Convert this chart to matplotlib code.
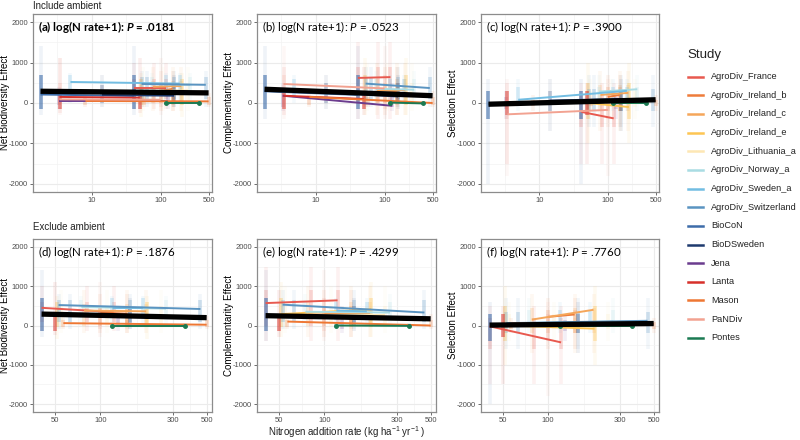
import matplotlib
matplotlib.use("Agg")
import matplotlib.pyplot as plt
from matplotlib.lines import Line2D
from matplotlib.ticker import FixedLocator, NullFormatter

plt.rcParams["font.family"] = ["Liberation Sans", "DejaVu Sans"]
plt.rcParams["axes.unicode_minus"] = False
plt.rcParams["mathtext.fontset"] = "custom"
plt.rcParams["mathtext.rm"] = "Liberation Sans"
plt.rcParams["mathtext.it"] = "Lato:italic"
plt.rcParams["mathtext.bf"] = "Lato:bold:italic"

# studies, colours and nitrogen levels (kg N)
studies = ["AgroDiv_France", "AgroDiv_Ireland_b", "AgroDiv_Ireland_c", "AgroDiv_Ireland_e",
           "AgroDiv_Lithuania_a", "AgroDiv_Norway_a", "AgroDiv_Sweden_a", "AgroDiv_Switzerland",
           "BioCoN", "BioDSweden", "Jena", "Lanta", "Mason", "PaNDiv", "Pontes"]
colors = ["#E8594F", "#EE7C3B", "#F5A65A", "#FDC553", "#FDE7B4", "#A9DCE3", "#72BDE2",
          "#5A94C1", "#3D6CA9", "#1E3A6E", "#6B3C8E", "#D7302A", "#EE7733", "#F2A291", "#1B7A52"]
ambient = [None, None, None, None, None, None, 4.9, None,
           1.8, 14.1, 3.3, 3.4, 8.1, 3.4, None]
levels = [[41, 81, 122], [100, 150], [78, 150, 200], [52, 203],
          [55, 110, 250], [75, 270], [120, 190], [53, 63, 157, 455],
          [41], [157], [130], [50], [57, 150, 500], [100], [120, 360]]
# how crowded each study's point columns look (many plots -> darker)
crowding = [0.2, 0.2, 0.2, 0.35, 0.2, 0.2, 0.25, 0.25,
            0.6, 0.25, 0.2, 0.55, 0.2, 0.2, 0.3]

# point clouds per study: (low, high, core low, core high)
cloud_nbe = [(-150, 1000, 100, 600), (-200, 800, 0, 500), (-200, 900, 0, 550), (-350, 750, -50, 600),
             (-200, 900, 0, 500), (0, 750, 200, 650), (0, 750, 250, 700), (-100, 800, 100, 650),
             (-300, 1400, -150, 700), (-100, 700, 0, 450), (-150, 400, -50, 200), (-250, 1100, -150, 300),
             (-100, 250, -50, 150), (-300, 1100, -100, 500), (-60, 60, -30, 30)]
cloud_ce = [(-400, 1500, 0, 900), (-300, 900, 0, 500), (-300, 1000, 0, 600), (-300, 1100, -50, 700),
            (-200, 1000, 0, 500), (0, 800, 150, 600), (0, 700, 150, 600), (-100, 900, 100, 650),
            (-400, 1400, -150, 700), (-150, 700, 0, 500), (-200, 500, -100, 300), (-300, 900, -150, 300),
            (-100, 300, -50, 150), (-400, 1400, -150, 700), (-60, 60, -30, 30)]
cloud_se = [(-1500, 500, -600, 200), (-600, 700, -200, 400), (-700, 800, -200, 450), (-1000, 1000, -400, 500),
            (-400, 600, -100, 300), (-200, 700, 0, 400), (-200, 600, 0, 400), (-600, 700, -200, 350),
            (-2000, 600, -400, 300), (-700, 600, -200, 300), (-400, 300, -150, 150), (-1500, 500, -300, 300),
            (-200, 200, -80, 80), (-1800, 600, -400, 300), (-60, 60, -30, 30)]

# fitted lines: value at lowest and highest N of each study
fit_a = [(380, 380), (300, 350), (400, 420), (230, 240), (300, 310), (470, 450), (520, 480), (470, 450),
         (210, 175), (200, 180), (40, 40), (150, 130), (50, 40), (90, 80), (0, 0)]
fit_b = [(620, 640), (250, 300), (300, 320), (200, 250), (250, 250), (350, 330), (330, 240), (480, 370),
         (290, 200), (260, 160), (180, -70), (180, 100), (150, 0), (470, 360), (10, -10)]
fit_c = [(-220, -380), (150, 200), (200, 250), (0, -100), (30, 50), (280, 340), (80, 300), (0, 100),
         (-30, 20), (60, 100), (0, 60), (-30, 30), (30, 60), (-280, -170), (0, 0)]
fit_d = [(450, 340), (330, 300), (380, 360), (300, 240), (260, 250), (470, 430), (440, 450), (520, 420),
         None, None, None, None, (60, 20), None, (0, 0)]
fit_e = [(570, 640), (300, 320), (280, 300), (290, 410), (260, 270), (350, 330), (380, 360), (530, 330),
         None, None, None, None, (100, 0), None, (0, -10)]
fit_f = [(-20, -430), (220, 280), (150, 400), (0, -80), (20, 40), (60, 100), (60, 80), (60, 120),
         None, None, None, None, (50, 40), None, (0, 0)]
overall = {"a": (290, 250), "b": (340, 180), "c": (-30, 80),
           "d": (290, 200), "e": (250, 170), "f": (10, 50)}
p_values = {"a": ".0181", "b": ".0523", "c": ".3900", "d": ".1876", "e": ".4299", "f": ".7760"}
ylabels = ["Net Biodiversity Effect", "Complementarity Effect", "Selection Effect"]

W, H = 800, 440
fig = plt.figure(figsize=(W / 100, H / 100), dpi=100)


def add_ax(x0, y0, x1, y1):
    return fig.add_axes([x0 / W, 1 - y1 / H, (x1 - x0) / W, (y1 - y0) / H])


def draw_panel(ax, key, clouds, fits, include_amb, ylabel):
    xs_all = []
    for i, st in enumerate(studies):
        xs = list(levels[i])
        if include_amb and ambient[i] is not None:
            xs = [ambient[i]] + xs
        xs_all += xs
        lo, hi, clo, chi = clouds[i]
        ax.vlines(xs, lo, hi, color=colors[i], lw=2.6, alpha=0.08, zorder=2)
        ax.vlines(xs, clo, chi, color=colors[i], lw=2.6, alpha=crowding[i], zorder=2)
        if fits[i] is not None and len(xs) > 1:
            ax.plot([min(xs), max(xs)], fits[i], color=colors[i], lw=1.4, zorder=3,
                    solid_capstyle="butt")
            if st == "Pontes":
                ax.plot([min(xs), max(xs)], fits[i], "o", color=colors[i], ms=2.5, zorder=3)
    ax.plot([min(xs_all), max(xs_all)], overall[key], color="black", lw=3.8, zorder=4,
            solid_capstyle="butt")

    ax.set_xscale("log")
    ax.set_ylim(-2200, 2200)
    ax.set_yticks([-2000, -1000, 0, 1000, 2000])
    ax.set_yticks([-1500, -500, 500, 1500], minor=True)
    if include_amb:
        ax.set_xlim(1.4, 560)
        ax.xaxis.set_major_locator(FixedLocator([10, 100, 500]))
        ax.xaxis.set_minor_locator(FixedLocator([3.16, 31.6, 224]))
        ax.set_xticklabels(["10", "100", "500"])
    else:
        ax.set_xlim(36, 542)
        ax.xaxis.set_major_locator(FixedLocator([50, 100, 300, 500]))
        ax.xaxis.set_minor_locator(FixedLocator([70.7, 173, 387]))
        ax.set_xticklabels(["50", "100", "300", "500"])
    ax.xaxis.set_minor_formatter(NullFormatter())
    ax.grid(True, which="major", color="#ebebeb", lw=0.8, zorder=0)
    ax.grid(True, which="minor", color="#f3f3f3", lw=0.5, zorder=0)
    ax.set_axisbelow(True)
    ax.tick_params(which="major", length=2.5, width=0.6, color="#555555",
                   labelsize=5.5, labelcolor="#4d4d4d", pad=1)
    ax.tick_params(which="minor", length=0)
    for s in ax.spines.values():
        s.set_color("#8c8c8c")
        s.set_linewidth(0.9)
    ax.set_ylabel(ylabel, fontsize=7, va="center")
    ax.yaxis.set_label_coords(-28.2 / 179, 0.5)

    letter = "(" + key + ") "
    if key == "a":
        ax.text(0.03, 0.925, letter + "log(N rate+1): $\\mathbf{P}$ = .0181", transform=ax.transAxes,
                fontsize=8.3, fontweight="bold", family="Lato", va="center", ha="left", zorder=6)
    else:
        ax.text(0.03, 0.925, letter + "log(N rate+1): $\\mathit{P}$ = " + p_values[key],
                transform=ax.transAxes, fontsize=8.3, family="Lato", va="center", ha="left", zorder=6)


col_x = [(33, 212), (257, 436), (481, 659)]
top_keys = ["a", "b", "c"]
bot_keys = ["d", "e", "f"]
top_fits = [fit_a, fit_b, fit_c]
bot_fits = [fit_d, fit_e, fit_f]
clouds_all = [cloud_nbe, cloud_ce, cloud_se]

for j in range(3):
    ax = add_ax(col_x[j][0], 14, col_x[j][1], 192)
    draw_panel(ax, top_keys[j], clouds_all[j], top_fits[j], True, ylabels[j])
    ax = add_ax(col_x[j][0], 239, col_x[j][1], 412)
    draw_panel(ax, bot_keys[j], clouds_all[j], bot_fits[j], False, ylabels[j])

# overlay for row titles, axis title and legend, in pixel coordinates
ov = fig.add_axes([0, 0, 1, 1], facecolor="none")
ov.set_xlim(0, W)
ov.set_ylim(H, 0)
ov.axis("off")
ov.text(33, 6, "Include ambient", fontsize=7, va="center", ha="left", color="#222222")
ov.text(33, 227, "Exclude ambient", fontsize=7, va="center", ha="left", color="#222222")
ov.text(347, 436, "Nitrogen addition rate (kg ha$^{-1}$ yr$^{-1}$ )", fontsize=7,
        va="baseline", ha="center", color="#222222")
ov.text(687, 55, "Study", fontsize=9.5, va="center", ha="left", color="#222222")
for i, st in enumerate(studies):
    y = 76.7 + i * 18.65
    ov.add_line(Line2D([688, 703], [y, y], color=colors[i], lw=1.8))
    ov.text(711, y, st, fontsize=6.6, va="center", ha="left", color="#222222")

fig.savefig("out.png", dpi=100)
